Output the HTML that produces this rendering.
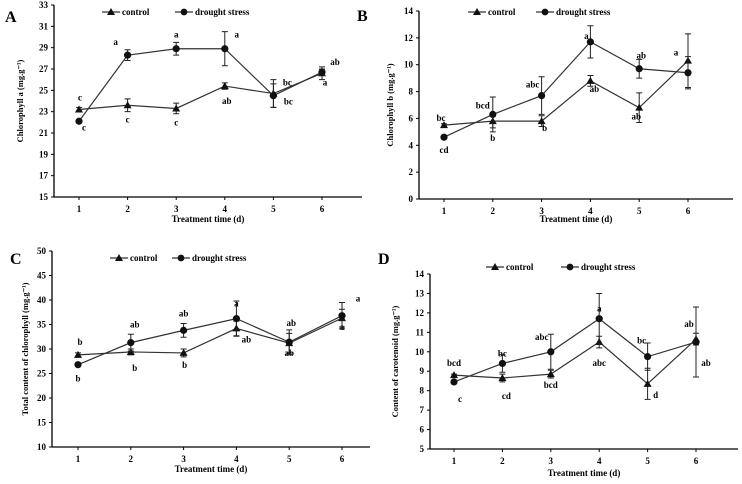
<!DOCTYPE html>
<html><head><meta charset="utf-8"><style>
body{margin:0;background:#fff}
svg{display:block;font-family:"Liberation Serif",serif;font-weight:bold}
</style></head><body>
<svg id="fig" width="742" height="484" viewBox="0 0 742 484"></svg>
<script>
const days=[1,2,3,4,5,6];
const aControl=[23.2,23.6,23.3,25.4,24.7,26.6];
const aControlErr=[0.2,0.6,0.5,0.3,1.3,0.6];
const aDrought=[22.1,28.3,28.9,28.9,24.5,26.7];
const aDroughtErr=[0.1,0.5,0.6,1.6,1.1,0.3];
const aTicks=[15,17,19,21,23,25,27,29,31,33];
const aControlLetters=["c","c","c","ab","bc","a"];
const aDroughtLetters=["c","a","a","a","bc","ab"];

const bControl=[5.5,5.8,5.8,8.8,6.8,10.3];
const bControlErr=[0.1,0.5,0.4,0.4,1.1,2.0];
const bDrought=[4.6,6.3,7.7,11.7,9.7,9.4];
const bDroughtErr=[0.1,1.3,1.4,1.2,0.7,1.2];
const bTicks=[0,2,4,6,8,10,12,14];
const bControlLetters=["bc","b","b","ab","ab","a"];
const bDroughtLetters=["cd","bcd","abc","a","ab",""];

const cControl=[28.8,29.4,29.2,34.2,31.2,36.3];
const cControlErr=[0.4,0.6,0.8,1.5,2.0,1.8];
const cDrought=[26.8,31.3,33.8,36.2,31.4,36.8];
const cDroughtErr=[0.2,1.7,1.4,3.6,2.5,2.7];
const cTicks=[10,15,20,25,30,35,40,45,50];
const cControlLetters=["b","b","b","ab","ab","a"];
const cDroughtLetters=["b","ab","ab","a","ab","a"];

const dControl=[8.8,8.65,8.85,10.5,8.35,10.65];
const dControlErr=[0.05,0.2,0.2,0.3,0.8,0.3];
const dDrought=[8.45,9.4,10.0,11.7,9.75,10.5];
const dDroughtErr=[0.05,0.45,0.9,1.3,0.7,1.8];
const dTicks=[5,6,7,8,9,10,11,12,13,14];
const dControlLetters=["bcd","cd","bcd","abc","d","ab"];
const dDroughtLetters=["c","bc","abc","a","bc","ab"];

const NS="http://www.w3.org/2000/svg";
const svg=document.getElementById('fig');
function mk(tag,attrs,parent,txt){const e=document.createElementNS(NS,tag);for(const k in attrs)e.setAttribute(k,attrs[k]);if(txt!==undefined)e.textContent=txt;(parent||svg).appendChild(e);return e;}

const panels=[
 {id:"a",letter:"A",lx:5,ly:22,ax:54,top:5,bot:197,xend:362,x1:79,x6:322,ticks:aTicks,
  ytitle:"Chlorophyll a (mg.g⁻¹)",ytx:23,xtitleY:222,
  c:aControl,ce:aControlErr,d:aDrought,de:aDroughtErr,cl:aControlLetters,dl:aDroughtLetters,
  co:[[1,-12],[0,14],[0,14],[2,15],[14,-11],[3,9]],do:[[5,6],[-12,-13],[0,-14],[12,-14],[15,6],[13,-10]],
  leg:[102,12,175]},
 {id:"b",letter:"B",lx:357,ly:21,ax:419,top:11,bot:199,xend:733,x1:444,x6:688,ticks:bTicks,
  ytitle:"Chlorophyll b (mg.g⁻¹)",ytx:393,xtitleY:222,
  c:bControl,ce:bControlErr,d:bDrought,de:bDroughtErr,cl:bControlLetters,dl:bDroughtLetters,
  co:[[-3,-7],[0,17],[3,7],[4,8],[-3,9],[-12,-8]],do:[[0,13],[-10,-9],[-9,-11],[-4,-6],[2,-13],[0,0]],
  leg:[468,12,536]},
 {id:"c",letter:"C",lx:10,ly:264,ax:52,top:251,bot:447,xend:370,x1:78,x6:342,ticks:cTicks,
  ytitle:"Total content of chlorophyll (mg.g⁻¹)",ytx:28,xtitleY:472,
  c:cControl,ce:cControlErr,d:cDrought,de:cDroughtErr,cl:cControlLetters,dl:cDroughtLetters,
  co:[[2,-13],[4,16],[1,12],[10,11],[0,10],[0,9]],do:[[0,14],[4,-18],[0,-17],[0,-15],[2,-19],[16,-17]],
  leg:[110,258,172]},
 {id:"d",letter:"D",lx:378,ly:264,ax:430,top:274,bot:449,xend:738,x1:454,x6:696,ticks:dTicks,
  ytitle:"Content of carotenoid (mg.g⁻¹)",ytx:398,xtitleY:476,
  c:dControl,ce:dControlErr,d:dDrought,de:dDroughtErr,cl:dControlLetters,dl:dDroughtLetters,
  co:[[0,-12],[4,18],[0,11],[0,21],[8,11],[-7,-15]],do:[[6,17],[0,-10],[-9,-15],[0,-10],[-6,-16],[10,21]],
  leg:[486,267,561]}
];

panels.forEach(p=>{
 const g=mk('g',{},svg);
 
 
 const ymin=p.ticks[0],ymax=p.ticks[p.ticks.length-1];
 const sy=v=>p.bot-(v-ymin)/(ymax-ymin)*(p.bot-p.top);
 const sx=d=>p.x1+(d-1)*(p.x6-p.x1)/5;
 const pl=mk('text',{x:p.lx,y:p.ly,'font-size':16},g,p.letter);
 
 // axes
 const ya=mk('line',{x1:p.ax,y1:p.top,x2:p.ax,y2:p.bot,stroke:'#000','stroke-width':1.3},g);
 
 const xa=mk('line',{x1:p.ax,y1:p.bot,x2:p.xend,y2:p.bot,stroke:'#000','stroke-width':1.3},g);
 
 p.ticks.forEach(t=>{
  mk('line',{x1:p.ax-3,y1:sy(t),x2:p.ax,y2:sy(t),stroke:'#000'},g);
  const tl=mk('text',{x:p.ax-6,y:sy(t)+3,'font-size':9,'text-anchor':'end'},g,t);
  
 });
 days.forEach(d=>{
  mk('line',{x1:sx(d),y1:p.bot,x2:sx(d),y2:p.bot+3,stroke:'#000'},g);
  const tl=mk('text',{x:sx(d),y:p.bot+15,'font-size':9,'text-anchor':'middle'},g,d);
  
 });
 const xt=mk('text',{x:(p.ax+p.xend)/2,y:p.xtitleY,'font-size':9,'text-anchor':'middle'},g,'Treatment time (d)');
 
 const yc=(p.top+p.bot)/2;
 const yt=mk('text',{x:p.ytx,y:yc,'font-size':8.5,'text-anchor':'middle',transform:`rotate(-90 ${p.ytx} ${yc})`},g,p.ytitle);
 
 // series
 const drawSeries=(vals,errs,kind,letters,offs)=>{
  const sg=mk('g',{},g);
  
  const pts=vals.map((v,i)=>sx(days[i])+','+sy(v)).join(' ');
  mk('polyline',{points:pts,fill:'none',stroke:'#333','stroke-width':1.2},sg);
  vals.forEach((v,i)=>{
   const x=sx(days[i]);
   const eb=mk('path',{d:`M${x},${sy(v+errs[i])}V${sy(v-errs[i])}M${x-3},${sy(v+errs[i])}h6M${x-3},${sy(v-errs[i])}h6`,stroke:'#222','stroke-width':1,fill:'none'},sg);
   
   let m;
   if(kind==='control'){const y=sy(v);m=mk('path',{d:`M${x},${y-4}L${x+4},${y+3}L${x-4},${y+3}Z`,fill:'#111'},sg);}
   else m=mk('circle',{cx:x,cy:sy(v),r:3.6,fill:'#111'},sg);
   
   if(letters[i]){
    const lt=mk('text',{x:x+offs[i][0],y:sy(v)+offs[i][1]+3,'font-size':9,'text-anchor':'middle'},sg,letters[i]);
    
   }
  });
 };
 drawSeries(p.c,p.ce,'control',p.cl,p.co);
 drawSeries(p.d,p.de,'drought',p.dl,p.do);
 // legend
 const [lx,ly,lx2]=p.leg;
 const lg=mk('g',{},g);
 
 mk('line',{x1:lx,y1:ly,x2:lx+18,y2:ly,stroke:'#333','stroke-width':1.2},lg);
 mk('path',{d:`M${lx+9},${ly-4}L${lx+13},${ly+3}L${lx+5},${ly+3}Z`,fill:'#111'},lg);
 const t1=mk('text',{x:lx+20,y:ly+3,'font-size':9},lg,'control');
 
 mk('line',{x1:lx2,y1:ly,x2:lx2+18,y2:ly,stroke:'#333','stroke-width':1.2},lg);
 mk('circle',{cx:lx2+9,cy:ly,r:3.4,fill:'#111'},lg);
 const t2=mk('text',{x:lx2+20,y:ly+3,'font-size':9},lg,'drought stress');
 
});
</script>
</body></html>
